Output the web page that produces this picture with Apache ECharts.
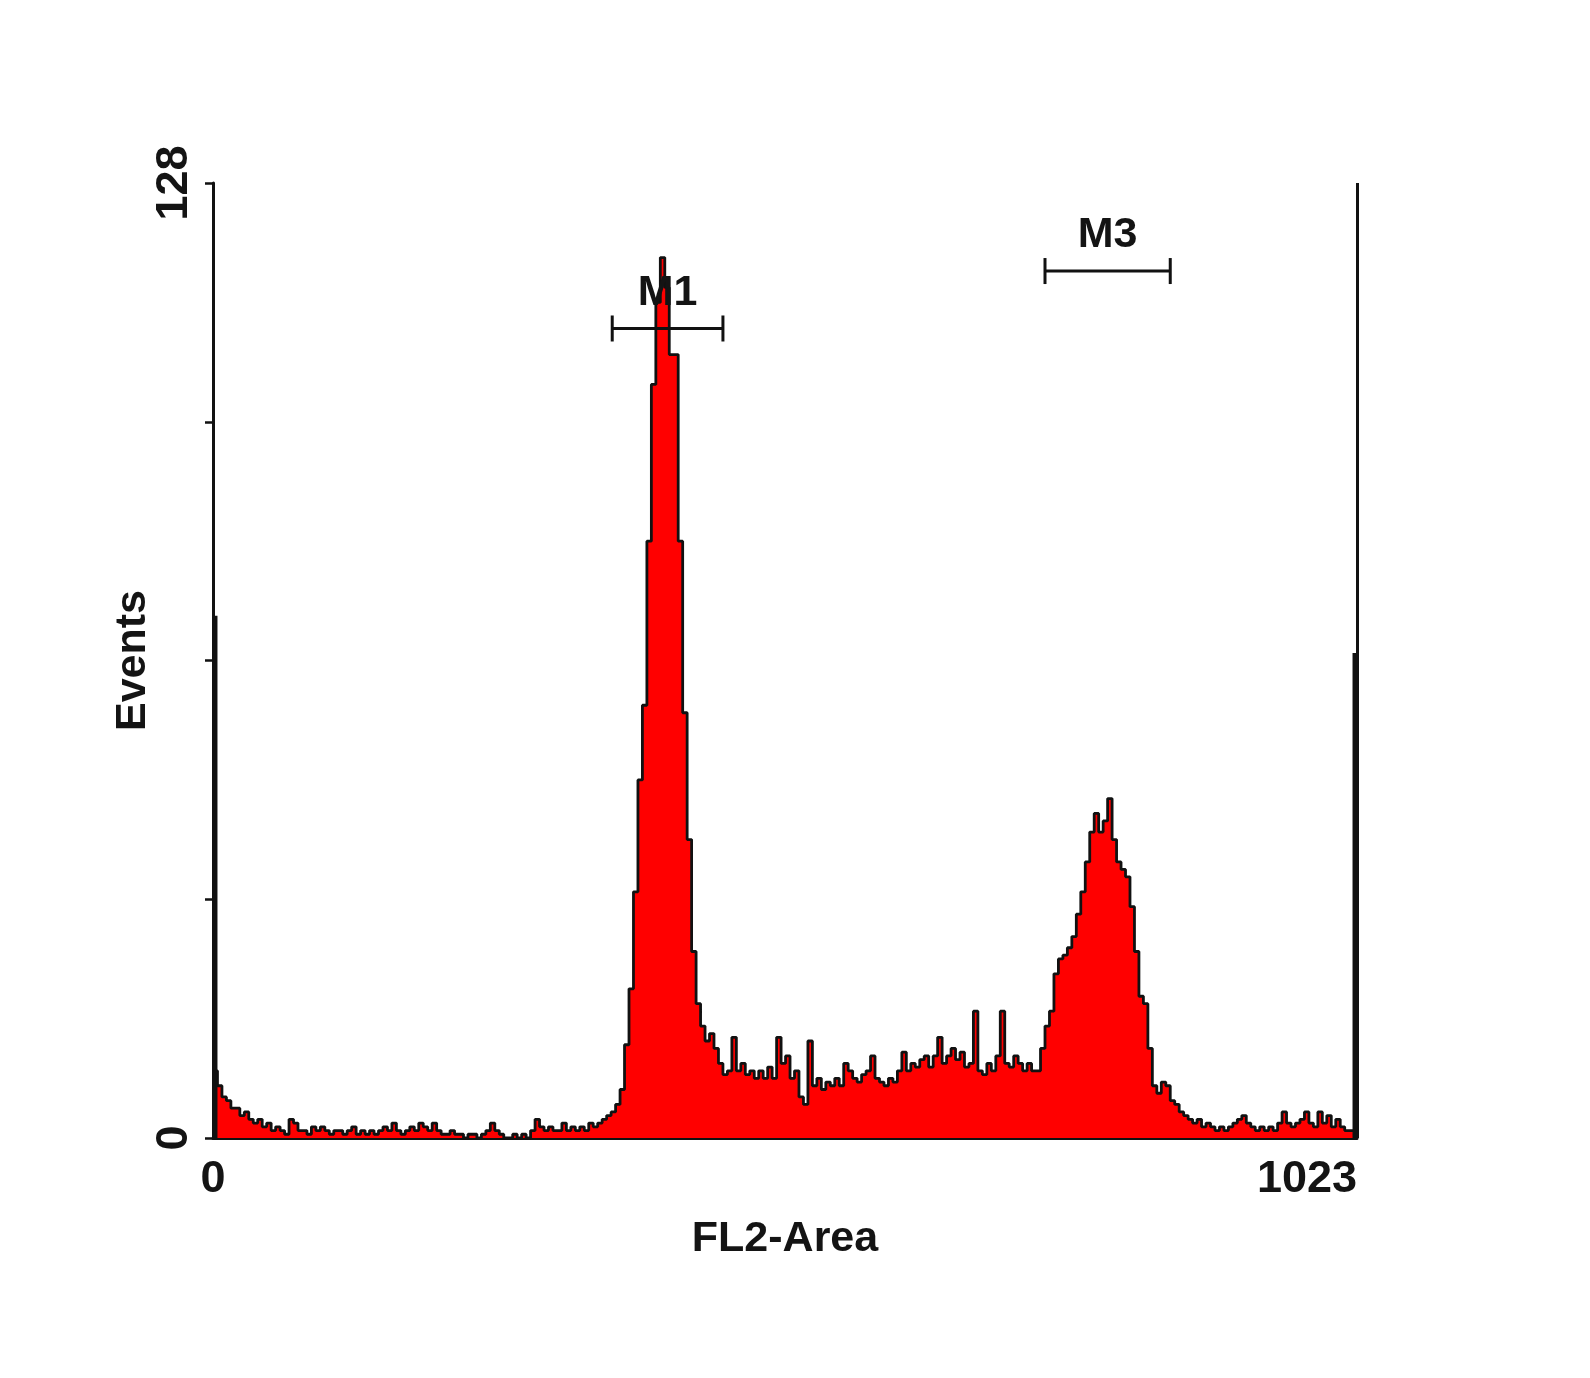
<!DOCTYPE html>
<html><head><meta charset="utf-8">
<script src="https://cdn.jsdelivr.net/npm/echarts@6/dist/echarts.min.js"></script>
<style>html,body{margin:0;padding:0;background:#fff}#chart{width:1590px;height:1378px}</style>
</head><body><div id="chart"></div>
<script>
// FL2-Area histogram (4 channels per bin, bin start = index * 4)
const binWidth = 4;
const xTickLabels = [0, 1023];
const yTickLabels = [0, 128];
const firstChannelEvents = 70;   // pile-up at the lowest channels
const lastChannelEvents = 65;    // pile-up at the highest channels
const events = [
  // 0 - 108
  9, 7, 5.5, 5, 4, 4, 3, 3.5, 2.5, 2, 2.5, 1.5, 2, 1, 1.5, 1, 0.5, 2.5, 2, 1, 1, 0.5, 1.5, 1, 1.5, 1, 0.5, 1,
  // 112 - 348
  1, 0.5, 1, 1.5, 0.5, 1, 0.5, 1, 0.5, 1,
  1.5, 1, 2, 1, 0.5, 1, 1.5, 1, 2, 1.5,
  1, 2, 1, 0.5, 0.5, 1, 0.5, 0.5, 0, 0.5,
  0.5, 0, 0.5, 1, 2, 1, 0.5, 0, 0, 0.5,
  0, 0.5, 0, 1, 2.5, 1.5, 1, 1.5, 1, 1,
  2, 1, 1.5, 1, 1.5, 1, 2, 1.5, 2, 2.5,
  // 352 - 484 (M1 peak)
  3, 3.5, 4.5, 6.5, 12.5, 20, 33, 48, 58, 80, 101, 112, 118, 114, 105, 105, 80, 57, 40, 25,
  18, 15, 13, 14, 12, 10, 8.5, 9, 13.5, 9, 10, 8.5, 9, 8,
  // 488 - 724
  9, 8, 9.5, 8, 13.5, 10, 11, 8, 9, 5.5,
  4.5, 13, 7, 8, 6.5, 7.5, 7, 8, 7, 10,
  9, 8, 7.5, 8.5, 9, 11, 8, 7.5, 7, 8,
  7.5, 9, 11.5, 9, 10, 9.5, 10.5, 11, 9.5, 11,
  13.5, 10, 11, 12, 10.5, 11.5, 9.5, 10, 17, 9,
  8.5, 10, 9, 11, 17, 10, 9.5, 11, 10, 9,
  // 728 - 864 (M3 peak)
  10, 9, 9, 12, 15, 17, 22, 24, 24.5, 25.5,
  27, 30, 33, 37, 41, 43.5, 41, 42.5, 45.5, 40,
  37, 36, 35, 31, 25, 19, 18, 12, 7, 6,
  7.5, 7, 5, 4.5, 3.5,
  // 868 - 1020
  3, 2.5, 2, 2.5, 1.5, 2, 1.5, 1, 1.5, 1,
  1.5, 2, 2.5, 3, 2, 1.5, 1, 1.5, 1, 1.5,
  1, 2, 3.5, 2, 1.5, 2, 2.5, 3.5, 2, 1.5,
  3.5, 2, 3, 1.5, 2.5, 1.5, 1, 1, 1
];
// pile-up channel ranges [start, end, events]
const pileUps = [[0, 4, firstChannelEvents], [1019, 1023, lastChannelEvents]];
const markerNames = ['M1', 'M3'];
const markerStart = [357, 744];
const markerEnd = [456, 856];
const markerLevel = [108.5, 116.2];

const histData = [];
for (let i = 0; i < events.length; i++) histData.push([i * binWidth, events[i]]);
histData.push([1023, events[events.length - 1]]);

const FONT = '"Liberation Sans", Arial, sans-serif';
const TXT = '#141414';
const FS = 43;

const markerSeries = [];
markerNames.forEach((n, i) => {
  markerSeries.push({
    type: 'line', silent: true, z: 5,
    data: [[markerStart[i], markerLevel[i]], [markerEnd[i], markerLevel[i]]],
    symbol: 'rect', symbolSize: [3, 26], showSymbol: true,
    itemStyle: { color: '#111' },
    lineStyle: { color: '#111', width: 3 }
  });
  markerSeries.push({
    type: 'scatter', silent: true, z: 4,
    data: [[(markerStart[i] + markerEnd[i]) / 2, markerLevel[i]]],
    symbolSize: 0,
    itemStyle: { opacity: 1, color: TXT },
    label: { show: true, formatter: n, position: 'top', distance: 14,
      fontSize: FS, fontWeight: 'bold', fontFamily: FONT, color: TXT }
  });
});

const chart = echarts.init(document.getElementById('chart'), null, { renderer: 'canvas' });
chart.setOption({
  animation: false,
  backgroundColor: '#ffffff',
  grid: { left: 213, right: 233, top: 183, bottom: 240, containLabel: false },
  xAxis: {
    type: 'value', min: 0, max: 1023,
    name: 'FL2-Area', nameLocation: 'middle', nameGap: 80, nameMoveOverlap: false,
    nameTextStyle: { fontSize: FS, fontWeight: 'bold', fontFamily: FONT, color: TXT },
    axisLine: { show: true, lineStyle: { color: '#111', width: 3 } },
    axisTick: { show: false },
    splitLine: { show: false },
    axisLabel: { customValues: xTickLabels, formatter: v => String(v), fontSize: FS + 2,
      fontWeight: 'bold', fontFamily: FONT, color: TXT, margin: 19,
      alignMaxLabel: 'right', alignMinLabel: 'center' }
  },
  yAxis: {
    type: 'value', min: 0, max: 128, interval: 32,
    name: 'Events', nameLocation: 'middle', nameRotate: 90, nameGap: 58, nameMoveOverlap: false,
    nameTextStyle: { fontSize: FS, fontWeight: 'bold', fontFamily: FONT, color: TXT },
    axisLine: { show: true, lineStyle: { color: '#111', width: 3 } },
    axisTick: { show: true, length: 8, lineStyle: { color: '#111', width: 2.5 } },
    splitLine: { show: false },
    axisLabel: { customValues: yTickLabels, formatter: v => String(v), rotate: 90, fontSize: FS + 2,
      fontWeight: 'bold', fontFamily: FONT, color: TXT, margin: 16 }
  },
  series: [
    {
      type: 'line', step: 'end', silent: true, z: 3,
      data: histData, symbol: 'none',
      lineStyle: { color: '#111', width: 2.8 },
      areaStyle: { color: '#ff0000', opacity: 1 },
      markLine: {
        silent: true, symbol: 'none', label: { show: false },
        lineStyle: { color: '#111', width: 3, type: 'solid' },
        data: [[{ coord: [1023, 0] }, { coord: [1023, 128] }]]
      }
    },
    {
      type: 'custom', silent: true, z: 6,
      data: pileUps,
      renderItem: (params, api) => {
        const p0 = api.coord([api.value(0), 0]);
        const p1 = api.coord([api.value(1), api.value(2)]);
        return { type: 'rect',
          shape: { x: p0[0], y: p1[1], width: Math.max(p1[0] - p0[0], 1), height: p0[1] - p1[1] },
          style: { fill: '#111' } };
      }
    },
    ...markerSeries
  ]
});
</script></body></html>
